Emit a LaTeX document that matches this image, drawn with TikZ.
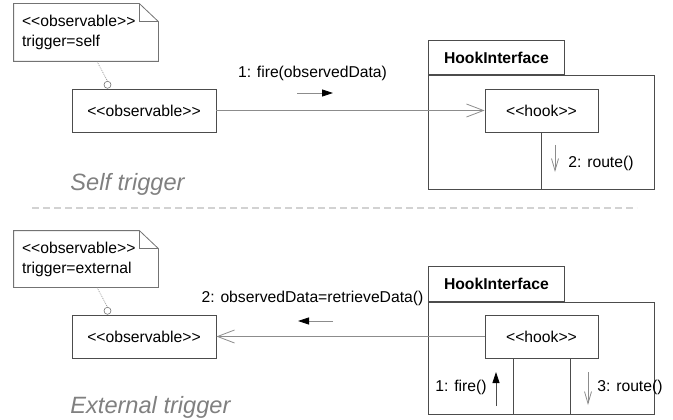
\documentclass[tikz,border=0pt]{standalone}
\usepackage{fontspec}
\setmainfont{Liberation Sans}
\usetikzlibrary{arrows.meta}

\definecolor{boxline}{gray}{0.3}
\definecolor{noteline}{gray}{0.45}
\definecolor{wire}{gray}{0.55}
\newcommand{\stereo}[1]{<{}<#1>{}>}

\begin{document}
\begin{tikzpicture}[x=1pt,y=-1pt,line width=0.8pt,
  every node/.style={font=\fontsize{15.7}{20}\selectfont,inner sep=0pt},
  box/.style={draw=boxline,minimum height=43pt},
  note/.style={minimum width=144pt,text width=128pt,align=left},
  sock/.style={circle,draw=noteline,fill=white,minimum size=7pt,line width=0.6pt},
  link/.style={draw=wire,-{Straight Barb[length=17pt,width=13pt]}},
  msgarrow/.style={draw=wire,-{Triangle[length=11pt,width=7pt,black]}},
  retarrow/.style={draw=wire,-{Straight Barb[length=12pt,width=7pt]}},
  caption/.style={font=\fontsize{23.6}{28}\selectfont\itshape,text=gray,anchor=base west},
  pkgtab/.style={draw=boxline,minimum width=136pt,anchor=north west,font=\fontsize{15.7}{20}\selectfont\bfseries},
  pkgbody/.style={draw=boxline,minimum width=226pt,anchor=north west}]
  \useasboundingbox (0,0) rectangle (673,420);

  % Self trigger
  \node[note,minimum height=57pt] (note1) at (86,32.5) {\stereo{observable}\\trigger=self};
  \draw[noteline] (note1.south west) -- (note1.south east) -- ([yshift=-18pt]note1.north east)
    -- ([xshift=-19pt]note1.north east) -- (note1.north west) -- cycle;
  \draw[noteline] ([xshift=-19pt]note1.north east) |- ([yshift=-18pt]note1.north east);
  \node[box,minimum width=144pt] (obs1) at (144,110.5) {\stereo{observable}};
  \node[sock,anchor=south] (sock1) at ([xshift=-36.5pt]obs1.north) {};
  \draw[wire,line width=0.6pt,dash pattern=on 1pt off 1pt] ([xshift=11pt]note1.south) -- (sock1.north);

  \node[pkgtab,minimum height=34pt] (tab1) at (428,40) {HookInterface};
  \node[pkgbody,minimum height=114pt] (pkg1) at (tab1.south west) {};
  \node[box,minimum width=113pt] (hook1) at (541.5,110.5) {\stereo{hook}};
  \draw[boxline] (hook1.south) -- (hook1.south |- pkg1.south);

  \draw[link] (obs1) -- (hook1);
  \node (call1) at (312.5,73) {1: fire(observedData)};
  \draw[msgarrow] (297,93) -- (333,93);
  \draw[retarrow] (555,145) -- (555,172);
  \node[anchor=west] (route1) at (568,163) {2: route()};

  \node[caption] (self) at (70,190) {Self trigger};

  % Separator
  \draw[gray!35,line width=1.2pt,dash pattern=on 7pt off 4pt] (32,208) -- (637,208);

  % External trigger
  \node[note,minimum height=56pt] (note2) at (86,259) {\stereo{observable}\\trigger=external};
  \draw[noteline] (note2.south west) -- (note2.south east) -- ([yshift=-18pt]note2.north east)
    -- ([xshift=-19pt]note2.north east) -- (note2.north west) -- cycle;
  \draw[noteline] ([xshift=-19pt]note2.north east) |- ([yshift=-18pt]note2.north east);
  \node[box,minimum width=144pt] (obs2) at (144,336.5) {\stereo{observable}};
  \node[sock,anchor=south] (sock2) at ([xshift=-36.5pt]obs2.north) {};
  \draw[wire,line width=0.6pt,dash pattern=on 1pt off 1pt] ([xshift=11pt]note2.south) -- (sock2.north);

  \node[pkgtab,minimum height=35pt] (tab2) at (428,266) {HookInterface};
  \node[pkgbody,minimum height=112pt] (pkg2) at (tab2.south west) {};
  \node[box,minimum width=113pt] (hook2) at (541.5,336.5) {\stereo{hook}};
  \coordinate (firel) at ([xshift=-28.5pt]hook2.south);
  \coordinate (routel) at ([xshift=28.5pt]hook2.south);
  \draw[boxline] (firel) -- (firel |- pkg2.south);
  \draw[boxline] (routel) -- (routel |- pkg2.south);

  \draw[link] (hook2) -- (obs2);
  \node (call2) at (312.5,298) {2: observedData=retrieveData()};
  \draw[msgarrow] (333,321) -- (298,321);
  \draw[msgarrow,draw=boxline] (496,406) -- (496,372);
  \node[anchor=east] (fire2) at (487,387) {1: fire()};
  \draw[retarrow] (588,372) -- (588,405);
  \node[anchor=west] (route2) at (597,387) {3: route()};

  \node[caption] (ext) at (70,413) {External trigger};
\end{tikzpicture}
\end{document}
